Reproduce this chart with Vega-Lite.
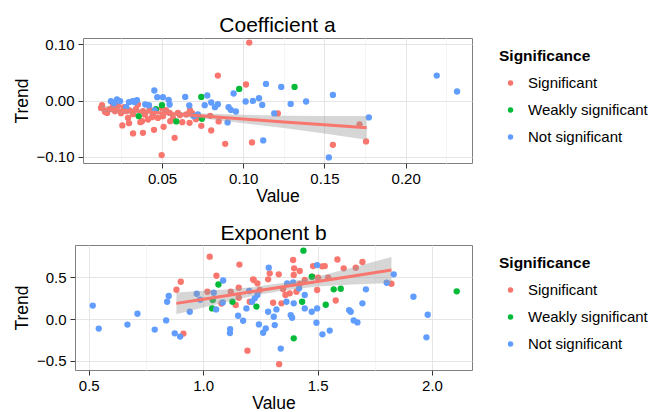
{
  "$schema": "https://vega.github.io/schema/vega-lite/v6.json",
  "padding": {"left": 12, "top": 14, "right": 0, "bottom": 0},
  "background": "white",
  "config": {
    "font": "Liberation Sans",
    "view": {"stroke": "#7F7F7F", "strokeWidth": 1},
    "axis": {"domain": false, "tickColor": "#333333", "tickSize": 5, "labelColor": "#000000", "labelFontSize": 15, "labelPadding": 3, "titleFontSize": 17.5, "titleFontWeight": "normal", "titleColor": "#000000", "titlePadding": 1, "gridWidth": 1, "labelOverlap": false, "labelFlush": false},
    "axisY": {"labelPadding": 4, "titlePadding": 5},
    "legend": {"titleFontSize": 15.5, "titleFontWeight": "bold", "titleColor": "#000000", "labelFontSize": 15, "labelColor": "#000000", "symbolType": "circle", "symbolSize": 30, "symbolOffset": 4, "labelOffset": 10, "rowPadding": 11, "titlePadding": 11, "padding": 11, "offset": 15, "symbolStrokeWidth": 0},
    "title": {"fontSize": 21, "fontWeight": "normal", "anchor": "middle", "frame": "group", "offset": 1, "color": "#000000"}
  },
  "datasets": {
    "pa": [
      {"value":0.0125,"trend":-0.0131,"sig":"Significant"},{"value":0.0149,"trend":-0.0202,"sig":"Significant"},{"value":0.0162,"trend":-0.0220,"sig":"Significant"},{"value":0.0199,"trend":-0.0089,"sig":"Significant"},{"value":0.0229,"trend":-0.0089,"sig":"Significant"},{"value":0.0266,"trend":-0.0119,"sig":"Significant"},{"value":0.0301,"trend":-0.0177,"sig":"Significant"},{"value":0.0352,"trend":-0.0071,"sig":"Significant"},{"value":0.0383,"trend":-0.0190,"sig":"Significant"},{"value":0.0424,"trend":-0.0160,"sig":"Significant"},{"value":0.0445,"trend":-0.0248,"sig":"Significant"},{"value":0.0475,"trend":-0.0309,"sig":"Significant"},{"value":0.0506,"trend":-0.0278,"sig":"Significant"},{"value":0.0547,"trend":-0.0220,"sig":"Significant"},{"value":0.0598,"trend":-0.0220,"sig":"Significant"},{"value":0.0649,"trend":-0.0248,"sig":"Significant"},{"value":0.0256,"trend":-0.0443,"sig":"Significant"},{"value":0.0322,"trend":-0.0585,"sig":"Significant"},{"value":0.0383,"trend":-0.0574,"sig":"Significant"},{"value":0.0367,"trend":-0.0385,"sig":"Significant"},{"value":0.0451,"trend":-0.0521,"sig":"Significant"},{"value":0.0510,"trend":-0.0468,"sig":"Significant"},{"value":0.0578,"trend":-0.0663,"sig":"Significant"},{"value":0.0625,"trend":-0.0385,"sig":"Significant"},{"value":0.0670,"trend":-0.0397,"sig":"Significant"},{"value":0.0498,"trend":-0.0970,"sig":"Significant"},{"value":0.0291,"trend":-0.0309,"sig":"Significant"},{"value":0.0414,"trend":-0.0337,"sig":"Significant"},{"value":0.0551,"trend":-0.0367,"sig":"Significant"},{"value":0.0742,"trend":-0.0450,"sig":"Significant"},{"value":0.0803,"trend":-0.0532,"sig":"Significant"},{"value":0.0844,"trend":0.0443,"sig":"Significant"},{"value":0.0889,"trend":-0.0769,"sig":"Significant"},{"value":0.1037,"trend":0.1028,"sig":"Significant"},{"value":0.1017,"trend":0.0284,"sig":"Significant"},{"value":0.0797,"trend":-0.0273,"sig":"Significant"},{"value":0.0849,"trend":-0.0372,"sig":"Significant"},{"value":0.1054,"trend":-0.0745,"sig":"Significant"},{"value":0.1213,"trend":-0.0230,"sig":"Significant"},{"value":0.1552,"trend":-0.0787,"sig":"Significant"},{"value":0.1716,"trend":-0.0426,"sig":"Significant"},{"value":0.1756,"trend":-0.0727,"sig":"Significant"},{"value":0.0180,"trend":-0.0154,"sig":"Significant"},{"value":0.0211,"trend":-0.0190,"sig":"Significant"},{"value":0.0248,"trend":-0.0225,"sig":"Significant"},{"value":0.0279,"trend":-0.0190,"sig":"Significant"},{"value":0.0322,"trend":-0.0243,"sig":"Significant"},{"value":0.0340,"trend":-0.0154,"sig":"Significant"},{"value":0.0395,"trend":-0.0252,"sig":"Significant"},{"value":0.0439,"trend":-0.0296,"sig":"Significant"},{"value":0.0525,"trend":-0.0172,"sig":"Significant"},{"value":0.0568,"trend":-0.0314,"sig":"Significant"},{"value":0.0611,"trend":-0.0261,"sig":"Significant"},{"value":0.0685,"trend":-0.0225,"sig":"Significant"},{"value":0.0709,"trend":-0.0332,"sig":"Significant"},{"value":0.0131,"trend":-0.0083,"sig":"Significant"},{"value":0.0500,"trend":-0.0137,"sig":"Significant"},{"value":0.0377,"trend":-0.0367,"sig":"Significant"},{"value":0.0297,"trend":-0.0402,"sig":"Significant"},{"value":0.0672,"trend":-0.0172,"sig":"Significant"},
      {"value":0.0500,"trend":-0.0083,"sig":"Weakly significant"},{"value":0.0742,"trend":0.0064,"sig":"Weakly significant"},{"value":0.0357,"trend":-0.0278,"sig":"Weakly significant"},{"value":0.0588,"trend":-0.0372,"sig":"Weakly significant"},{"value":0.0746,"trend":-0.0326,"sig":"Weakly significant"},{"value":0.0975,"trend":0.0206,"sig":"Weakly significant"},{"value":0.1316,"trend":0.0241,"sig":"Weakly significant"},{"value":0.0463,"trend":-0.0154,"sig":"Weakly significant"},
      {"value":0.0186,"trend":-0.0012,"sig":"Not significant"},{"value":0.0223,"trend":0.0018,"sig":"Not significant"},{"value":0.0242,"trend":-0.0012,"sig":"Not significant"},{"value":0.0320,"trend":-0.0012,"sig":"Not significant"},{"value":0.0332,"trend":-0.0030,"sig":"Not significant"},{"value":0.0346,"trend":0.0005,"sig":"Not significant"},{"value":0.0397,"trend":-0.0071,"sig":"Not significant"},{"value":0.0453,"trend":0.0177,"sig":"Not significant"},{"value":0.0471,"trend":0.0059,"sig":"Not significant"},{"value":0.0506,"trend":0.0059,"sig":"Not significant"},{"value":0.0541,"trend":0.0011,"sig":"Not significant"},{"value":0.0547,"trend":-0.0071,"sig":"Not significant"},{"value":0.0643,"trend":0.0064,"sig":"Not significant"},{"value":0.0668,"trend":-0.0089,"sig":"Not significant"},{"value":0.0763,"trend":-0.0083,"sig":"Not significant"},{"value":0.0779,"trend":0.0089,"sig":"Not significant"},{"value":0.0803,"trend":-0.0035,"sig":"Not significant"},{"value":0.0695,"trend":-0.0278,"sig":"Not significant"},{"value":0.0455,"trend":-0.0177,"sig":"Not significant"},{"value":0.0721,"trend":-0.0248,"sig":"Not significant"},{"value":0.0280,"trend":-0.0119,"sig":"Not significant"},{"value":0.0941,"trend":0.0124,"sig":"Not significant"},{"value":0.0910,"trend":-0.0119,"sig":"Not significant"},{"value":0.0924,"trend":-0.0167,"sig":"Not significant"},{"value":0.0955,"trend":-0.0195,"sig":"Not significant"},{"value":0.0904,"trend":-0.0390,"sig":"Not significant"},{"value":0.1015,"trend":-0.0018,"sig":"Not significant"},{"value":0.1060,"trend":-0.0007,"sig":"Not significant"},{"value":0.1097,"trend":0.0041,"sig":"Not significant"},{"value":0.1117,"trend":-0.0078,"sig":"Not significant"},{"value":0.1140,"trend":0.0294,"sig":"Not significant"},{"value":0.1234,"trend":0.0241,"sig":"Not significant"},{"value":0.1292,"trend":-0.0060,"sig":"Not significant"},{"value":0.1387,"trend":-0.0018,"sig":"Not significant"},{"value":0.1191,"trend":-0.0230,"sig":"Not significant"},{"value":0.1123,"trend":-0.0709,"sig":"Not significant"},{"value":0.1527,"trend":-0.1011,"sig":"Not significant"},{"value":0.1552,"trend":0.0099,"sig":"Not significant"},{"value":0.1773,"trend":-0.0301,"sig":"Not significant"},{"value":0.2191,"trend":0.0443,"sig":"Not significant"},{"value":0.2316,"trend":0.0160,"sig":"Not significant"},{"value":0.0205,"trend":-0.0048,"sig":"Not significant"},{"value":0.0297,"trend":-0.0030,"sig":"Not significant"},{"value":0.0420,"trend":-0.0083,"sig":"Not significant"},{"value":0.0826,"trend":-0.0119,"sig":"Not significant"},{"value":0.0844,"trend":-0.0066,"sig":"Not significant"}
    ],
    "ba": [
      {"value":0.0125,"fit":-0.0145,"lo":-0.0200,"hi":-0.0090},
      {"value":0.03,"fit":-0.0182,"lo":-0.0222,"hi":-0.0142},
      {"value":0.05,"fit":-0.0223,"lo":-0.0258,"hi":-0.0188},
      {"value":0.075,"fit":-0.0276,"lo":-0.0321,"hi":-0.0231},
      {"value":0.1,"fit":-0.0328,"lo":-0.0403,"hi":-0.0253},
      {"value":0.125,"fit":-0.0380,"lo":-0.0490,"hi":-0.0270},
      {"value":0.15,"fit":-0.0432,"lo":-0.0587,"hi":-0.0277},
      {"value":0.176,"fit":-0.0486,"lo":-0.0696,"hi":-0.0276}
    ],
    "pb": [
      {"value":0.8833,"trend":0.351,"sig":"Significant"},{"value":0.9021,"trend":0.447,"sig":"Significant"},{"value":0.9139,"trend":-0.174,"sig":"Significant"},{"value":1.0288,"trend":0.747,"sig":"Significant"},{"value":1.0581,"trend":0.519,"sig":"Significant"},{"value":1.0188,"trend":0.327,"sig":"Significant"},{"value":1.0800,"trend":0.186,"sig":"Significant"},{"value":1.1206,"trend":0.327,"sig":"Significant"},{"value":1.1586,"trend":0.653,"sig":"Significant"},{"value":1.1556,"trend":0.375,"sig":"Significant"},{"value":1.1556,"trend":0.255,"sig":"Significant"},{"value":1.1425,"trend":0.168,"sig":"Significant"},{"value":1.1936,"trend":-0.378,"sig":"Significant"},{"value":1.2185,"trend":0.476,"sig":"Significant"},{"value":1.2036,"trend":0.207,"sig":"Significant"},{"value":1.2473,"trend":0.348,"sig":"Significant"},{"value":1.3321,"trend":-0.540,"sig":"Significant"},{"value":1.3933,"trend":0.707,"sig":"Significant"},{"value":1.3977,"trend":0.608,"sig":"Significant"},{"value":1.4221,"trend":0.576,"sig":"Significant"},{"value":1.4807,"trend":0.635,"sig":"Significant"},{"value":1.5200,"trend":0.632,"sig":"Significant"},{"value":1.5314,"trend":0.635,"sig":"Significant"},{"value":1.5869,"trend":0.713,"sig":"Significant"},{"value":1.6144,"trend":0.608,"sig":"Significant"},{"value":1.6669,"trend":0.615,"sig":"Significant"},{"value":1.6961,"trend":0.683,"sig":"Significant"},{"value":1.2841,"trend":0.476,"sig":"Significant"},{"value":1.3304,"trend":0.536,"sig":"Significant"},{"value":1.3959,"trend":0.528,"sig":"Significant"},{"value":1.4440,"trend":0.468,"sig":"Significant"},{"value":1.4776,"trend":0.507,"sig":"Significant"},{"value":1.5026,"trend":0.495,"sig":"Significant"},{"value":1.5463,"trend":0.495,"sig":"Significant"},{"value":1.3059,"trend":0.195,"sig":"Significant"},{"value":1.3422,"trend":0.188,"sig":"Significant"},{"value":1.3496,"trend":0.356,"sig":"Significant"},{"value":1.4077,"trend":0.327,"sig":"Significant"},{"value":1.4221,"trend":0.420,"sig":"Significant"},{"value":1.4982,"trend":0.348,"sig":"Significant"},{"value":1.5795,"trend":0.222,"sig":"Significant"},{"value":1.2373,"trend":0.428,"sig":"Significant"},{"value":1.3597,"trend":0.288,"sig":"Significant"},{"value":1.3784,"trend":0.308,"sig":"Significant"},{"value":1.8229,"trend":0.423,"sig":"Significant"},{"value":1.2211,"trend":0.468,"sig":"Significant"},{"value":1.2910,"trend":0.548,"sig":"Significant"},
      {"value":1.0669,"trend":0.414,"sig":"Weakly significant"},{"value":1.0420,"trend":0.228,"sig":"Weakly significant"},{"value":1.0393,"trend":0.128,"sig":"Weakly significant"},{"value":1.1280,"trend":0.207,"sig":"Weakly significant"},{"value":1.2329,"trend":0.150,"sig":"Weakly significant"},{"value":1.4383,"trend":0.819,"sig":"Weakly significant"},{"value":1.4746,"trend":0.507,"sig":"Weakly significant"},{"value":1.4326,"trend":0.207,"sig":"Weakly significant"},{"value":1.5707,"trend":0.356,"sig":"Weakly significant"},{"value":1.6013,"trend":0.363,"sig":"Weakly significant"},{"value":1.5358,"trend":0.171,"sig":"Weakly significant"},{"value":1.3959,"trend":-0.231,"sig":"Weakly significant"},{"value":2.1082,"trend":0.332,"sig":"Weakly significant"},
      {"value":0.5175,"trend":0.162,"sig":"Not significant"},{"value":0.5438,"trend":-0.114,"sig":"Not significant"},{"value":0.6692,"trend":-0.066,"sig":"Not significant"},{"value":0.7129,"trend":0.064,"sig":"Not significant"},{"value":0.7885,"trend":-0.126,"sig":"Not significant"},{"value":0.8383,"trend":-0.016,"sig":"Not significant"},{"value":0.8427,"trend":0.207,"sig":"Not significant"},{"value":0.8497,"trend":0.276,"sig":"Not significant"},{"value":0.8759,"trend":-0.171,"sig":"Not significant"},{"value":0.8995,"trend":-0.210,"sig":"Not significant"},{"value":0.9414,"trend":0.088,"sig":"Not significant"},{"value":0.9720,"trend":0.303,"sig":"Not significant"},{"value":0.9869,"trend":0.231,"sig":"Not significant"},{"value":1.0463,"trend":0.315,"sig":"Not significant"},{"value":1.0568,"trend":0.116,"sig":"Not significant"},{"value":1.0874,"trend":0.462,"sig":"Not significant"},{"value":1.0857,"trend":0.198,"sig":"Not significant"},{"value":1.1180,"trend":-0.120,"sig":"Not significant"},{"value":1.1171,"trend":-0.168,"sig":"Not significant"},{"value":1.1530,"trend":0.040,"sig":"Not significant"},{"value":1.1748,"trend":-0.020,"sig":"Not significant"},{"value":1.1892,"trend":0.128,"sig":"Not significant"},{"value":1.2010,"trend":0.336,"sig":"Not significant"},{"value":1.2141,"trend":0.207,"sig":"Not significant"},{"value":1.2255,"trend":0.248,"sig":"Not significant"},{"value":1.2438,"trend":-0.064,"sig":"Not significant"},{"value":1.2736,"trend":-0.112,"sig":"Not significant"},{"value":1.2622,"trend":-0.164,"sig":"Not significant"},{"value":1.2867,"trend":0.615,"sig":"Not significant"},{"value":1.3671,"trend":0.428,"sig":"Not significant"},{"value":1.3933,"trend":0.440,"sig":"Not significant"},{"value":1.4195,"trend":0.368,"sig":"Not significant"},{"value":1.4440,"trend":0.288,"sig":"Not significant"},{"value":1.3640,"trend":0.207,"sig":"Not significant"},{"value":1.3959,"trend":0.188,"sig":"Not significant"},{"value":1.2841,"trend":0.088,"sig":"Not significant"},{"value":1.3203,"trend":0.116,"sig":"Not significant"},{"value":1.3085,"trend":0.028,"sig":"Not significant"},{"value":1.3828,"trend":0.048,"sig":"Not significant"},{"value":1.3889,"trend":0.016,"sig":"Not significant"},{"value":1.4440,"trend":0.128,"sig":"Not significant"},{"value":1.4746,"trend":0.088,"sig":"Not significant"},{"value":1.4982,"trend":0.128,"sig":"Not significant"},{"value":1.3129,"trend":-0.072,"sig":"Not significant"},{"value":1.5213,"trend":-0.183,"sig":"Not significant"},{"value":1.5532,"trend":-0.138,"sig":"Not significant"},{"value":1.6380,"trend":0.108,"sig":"Not significant"},{"value":1.6450,"trend":0.088,"sig":"Not significant"},{"value":1.6581,"trend":-0.016,"sig":"Not significant"},{"value":1.6743,"trend":-0.040,"sig":"Not significant"},{"value":1.6961,"trend":0.188,"sig":"Not significant"},{"value":1.7114,"trend":0.356,"sig":"Not significant"},{"value":1.3391,"trend":-0.354,"sig":"Not significant"},{"value":1.4951,"trend":-0.044,"sig":"Not significant"},{"value":1.4982,"trend":0.647,"sig":"Not significant"},{"value":1.8023,"trend":0.435,"sig":"Not significant"},{"value":1.8329,"trend":0.536,"sig":"Not significant"},{"value":1.9190,"trend":0.267,"sig":"Not significant"},{"value":1.9815,"trend":0.052,"sig":"Not significant"},{"value":1.9758,"trend":-0.219,"sig":"Not significant"},{"value":1.2373,"trend":0.288,"sig":"Not significant"}
    ],
    "bb": [
      {"value":0.883,"fit":0.188,"lo":0.058,"hi":0.318},
      {"value":1.0,"fit":0.238,"lo":0.138,"hi":0.338},
      {"value":1.1,"fit":0.280,"lo":0.205,"hi":0.355},
      {"value":1.233,"fit":0.337,"lo":0.285,"hi":0.389},
      {"value":1.35,"fit":0.387,"lo":0.342,"hi":0.432},
      {"value":1.5,"fit":0.450,"lo":0.390,"hi":0.510},
      {"value":1.65,"fit":0.514,"lo":0.414,"hi":0.614},
      {"value":1.823,"fit":0.588,"lo":0.432,"hi":0.744}
    ],
    "none": []
  },
  "vconcat": [
    {"spacing": -1, "hconcat": [
    {"width": 1, "height": 1, "view": {"stroke": null}, "data": {"name": "none"}, "mark": "point", "encoding": {}},
    {
      "width": 389,
      "height": 125,
      "title": "Coefficient a",
      "layer": [
        {
          "data": {"name": "pa"},
          "mark": {"type": "circle", "size": 40, "opacity": 1},
          "encoding": {
            "x": {"field": "value", "type": "quantitative", "title": "Value",
              "scale": {"domain": [0.0014, 0.2408], "nice": false, "zero": false},
              "axis": {"values": [0.025, 0.05, 0.075, 0.1, 0.125, 0.15, 0.175, 0.2, 0.225], "format": ".2f",
                "labelExpr": "abs(datum.value*20 - round(datum.value*20)) < 0.01 ? datum.label : ''",
                "tickOpacity": {"condition": {"test": "abs(datum.value*20 - round(datum.value*20)) < 0.01", "value": 1}, "value": 0},
                "gridColor": {"condition": {"test": "abs(datum.value*20 - round(datum.value*20)) < 0.01", "value": "#E5E5E5"}, "value": "#F5F5F5"}}},
            "y": {"field": "trend", "type": "quantitative", "title": "Trend",
              "scale": {"domain": [-0.111, 0.111], "nice": false, "zero": false},
              "axis": {"values": [-0.1, -0.075, -0.05, -0.025, 0, 0.025, 0.05, 0.075, 0.1], "format": ".2f",
                "labelExpr": "abs(datum.value*20 - round(datum.value*20)) < 0.01 ? datum.label : ''",
                "tickOpacity": {"condition": {"test": "abs(datum.value*20 - round(datum.value*20)) < 0.01", "value": 1}, "value": 0},
                "gridColor": {"condition": {"test": "abs(datum.value*20 - round(datum.value*20)) < 0.01", "value": "#E5E5E5"}, "value": "#F5F5F5"}}},
            "color": {"field": "sig", "type": "nominal",
              "scale": {"domain": ["Significant", "Weakly significant", "Not significant"], "range": ["#F8766D", "#00BA38", "#619CFF"]},
              "legend": {"title": "Significance"}}
          }
        },
        {
          "data": {"name": "ba"},
          "mark": {"type": "area", "color": "#999999", "opacity": 0.4},
          "encoding": {
            "x": {"field": "value", "type": "quantitative", "title": "Value"},
            "y": {"field": "lo", "type": "quantitative", "title": "Trend"},
            "y2": {"field": "hi"}
          }
        },
        {
          "data": {"name": "ba"},
          "mark": {"type": "line", "color": "#F8766D", "strokeWidth": 3},
          "encoding": {
            "x": {"field": "value", "type": "quantitative", "title": "Value"},
            "y": {"field": "fit", "type": "quantitative", "title": "Trend"}
          }
        }
      ]
    }
    ]},
    {"spacing": -1, "hconcat": [
    {"width": 1, "height": 1, "view": {"stroke": null}, "data": {"name": "none"}, "mark": "point", "encoding": {}},
    {
      "width": 397,
      "height": 125,
      "title": "Exponent b",
      "layer": [
        {
          "data": {"name": "pb"},
          "mark": {"type": "circle", "size": 40, "opacity": 1},
          "encoding": {
            "x": {"field": "value", "type": "quantitative", "title": "Value",
              "scale": {"domain": [0.44, 2.175], "nice": false, "zero": false},
              "axis": {"values": [0.5, 0.75, 1, 1.25, 1.5, 1.75, 2], "format": ".1f",
                "labelExpr": "abs(datum.value*2 - round(datum.value*2)) < 0.01 ? datum.label : ''",
                "tickOpacity": {"condition": {"test": "abs(datum.value*2 - round(datum.value*2)) < 0.01", "value": 1}, "value": 0},
                "gridColor": {"condition": {"test": "abs(datum.value*2 - round(datum.value*2)) < 0.01", "value": "#E5E5E5"}, "value": "#F5F5F5"}}},
            "y": {"field": "trend", "type": "quantitative", "title": "Trend",
              "scale": {"domain": [-0.61, 0.887], "nice": false, "zero": false},
              "axis": {"values": [-0.5, -0.25, 0, 0.25, 0.5, 0.75], "format": ".1f",
                "labelExpr": "abs(datum.value*2 - round(datum.value*2)) < 0.01 ? datum.label : ''",
                "tickOpacity": {"condition": {"test": "abs(datum.value*2 - round(datum.value*2)) < 0.01", "value": 1}, "value": 0},
                "gridColor": {"condition": {"test": "abs(datum.value*2 - round(datum.value*2)) < 0.01", "value": "#E5E5E5"}, "value": "#F5F5F5"}}},
            "color": {"field": "sig", "type": "nominal",
              "scale": {"domain": ["Significant", "Weakly significant", "Not significant"], "range": ["#F8766D", "#00BA38", "#619CFF"]},
              "legend": {"title": "Significance"}}
          }
        },
        {
          "data": {"name": "bb"},
          "mark": {"type": "area", "color": "#999999", "opacity": 0.4},
          "encoding": {
            "x": {"field": "value", "type": "quantitative", "title": "Value"},
            "y": {"field": "lo", "type": "quantitative", "title": "Trend"},
            "y2": {"field": "hi"}
          }
        },
        {
          "data": {"name": "bb"},
          "mark": {"type": "line", "color": "#F8766D", "strokeWidth": 3},
          "encoding": {
            "x": {"field": "value", "type": "quantitative", "title": "Value"},
            "y": {"field": "fit", "type": "quantitative", "title": "Trend"}
          }
        }
      ]
    }
    ]}
  ],
  "spacing": 17,
  "resolve": {"scale": {"color": "independent"}, "legend": {"color": "independent"}}
}
